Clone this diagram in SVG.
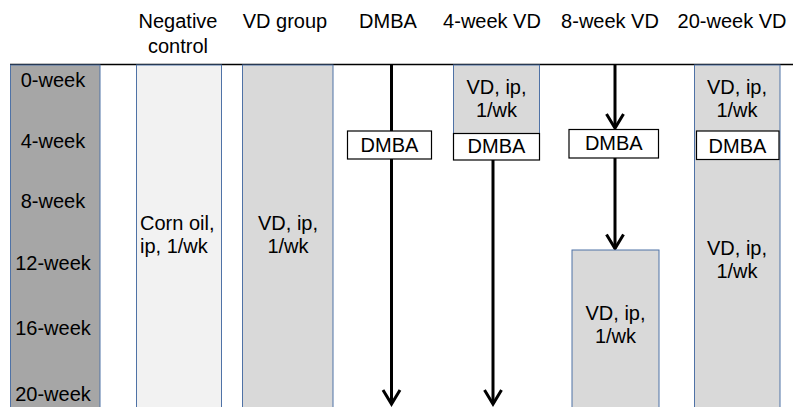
<svg xmlns="http://www.w3.org/2000/svg" width="793" height="407" viewBox="0 0 793 407">
<style>
text{font-family:"Liberation Sans",Arial,sans-serif;font-size:20px;fill:#000;}
.c{text-anchor:middle;}
.col{stroke:#4f72a6;stroke-width:1;}
.dark{fill:#a6a6a6;}
.light{fill:#f2f2f2;}
.mid{fill:#d9d9d9;}
.box{fill:#fff;stroke:#000;stroke-width:1.2;}
.arr{stroke:#000;stroke-width:3;fill:none;}
</style>
<defs>
<marker id="ah" markerUnits="userSpaceOnUse" markerWidth="30" markerHeight="30" refX="0" refY="0" viewBox="-20 -15 25 30" orient="auto" overflow="visible">
<path d="M-14,-8.5 L0,0 L-14,8.5" fill="none" stroke="#000" stroke-width="3"/>
</marker>
</defs>
<rect width="793" height="407" fill="#fff"/>

<g id="headers">
<text class="c" x="178" y="28">Negative</text>
<text class="c" x="178" y="53">control</text>
<text class="c" x="285" y="28">VD group</text>
<text class="c" x="388" y="28">DMBA</text>
<text class="c" x="492" y="28">4-week VD</text>
<text class="c" x="610" y="28">8-week VD</text>
<text class="c" x="732" y="28">20-week VD</text>
</g>

<line x1="10" y1="64.5" x2="793" y2="64.5" stroke="#000" stroke-width="1.5"/>

<g id="timeline">
<rect class="col dark" x="10.5" y="65" width="89.5" height="350"/>
<text class="c" x="53" y="87">0-week</text>
<text class="c" x="53" y="148">4-week</text>
<text class="c" x="53" y="208">8-week</text>
<text class="c" x="53" y="270">12-week</text>
<text class="c" x="53" y="335">16-week</text>
<text class="c" x="53" y="401">20-week</text>
</g>

<g id="negative-control">
<rect class="col light" x="136.5" y="65" width="85" height="350"/>
<text x="140" y="230">Corn oil,</text>
<text x="140" y="253">ip, 1/wk</text>
</g>

<g id="vd-group">
<rect class="col mid" x="242.5" y="65" width="90.5" height="350"/>
<text class="c" x="288" y="230">VD, ip,</text>
<text class="c" x="288" y="253">1/wk</text>
</g>

<g id="connectors">
<line class="arr" x1="391.5" y1="65" x2="391.5" y2="404" marker-end="url(#ah)"/>
<line class="arr" x1="493" y1="160" x2="493" y2="404" marker-end="url(#ah)"/>
<line class="arr" x1="615" y1="65" x2="615" y2="128" marker-end="url(#ah)"/>
<line class="arr" x1="615" y1="158" x2="615" y2="248.5" marker-end="url(#ah)"/>
</g>

<g id="dmba-box">
<rect class="box" x="347.5" y="131" width="84" height="28"/>
<text class="c" x="389.5" y="152">DMBA</text>
</g>

<g id="vd4-treatment">
<rect class="col mid" x="453.5" y="65" width="86" height="68.5"/>
<text class="c" x="496.5" y="94">VD, ip,</text>
<text class="c" x="496.5" y="117">1/wk</text>
</g>
<g id="vd4-dmba">
<rect class="box" x="453.5" y="133.5" width="86" height="26.5"/>
<text class="c" x="496.5" y="153">DMBA</text>
</g>

<g id="vd8-dmba">
<rect class="box" x="569" y="129.5" width="89.5" height="28.5"/>
<text class="c" x="613.8" y="150">DMBA</text>
</g>
<g id="vd8-treatment">
<rect class="col mid" x="572" y="250" width="87" height="165"/>
<text class="c" x="615.5" y="320">VD, ip,</text>
<text class="c" x="615.5" y="343">1/wk</text>
</g>

<g id="vd20-treatment">
<rect class="col mid" x="694.5" y="65" width="85.5" height="350"/>
<text class="c" x="737" y="94">VD, ip,</text>
<text class="c" x="737" y="117">1/wk</text>
<text class="c" x="737" y="255">VD, ip,</text>
<text class="c" x="737" y="278">1/wk</text>
</g>
<g id="vd20-dmba">
<rect class="box" x="696.5" y="131" width="82.5" height="28.5"/>
<text class="c" x="737.5" y="153">DMBA</text>
</g>
</svg>
